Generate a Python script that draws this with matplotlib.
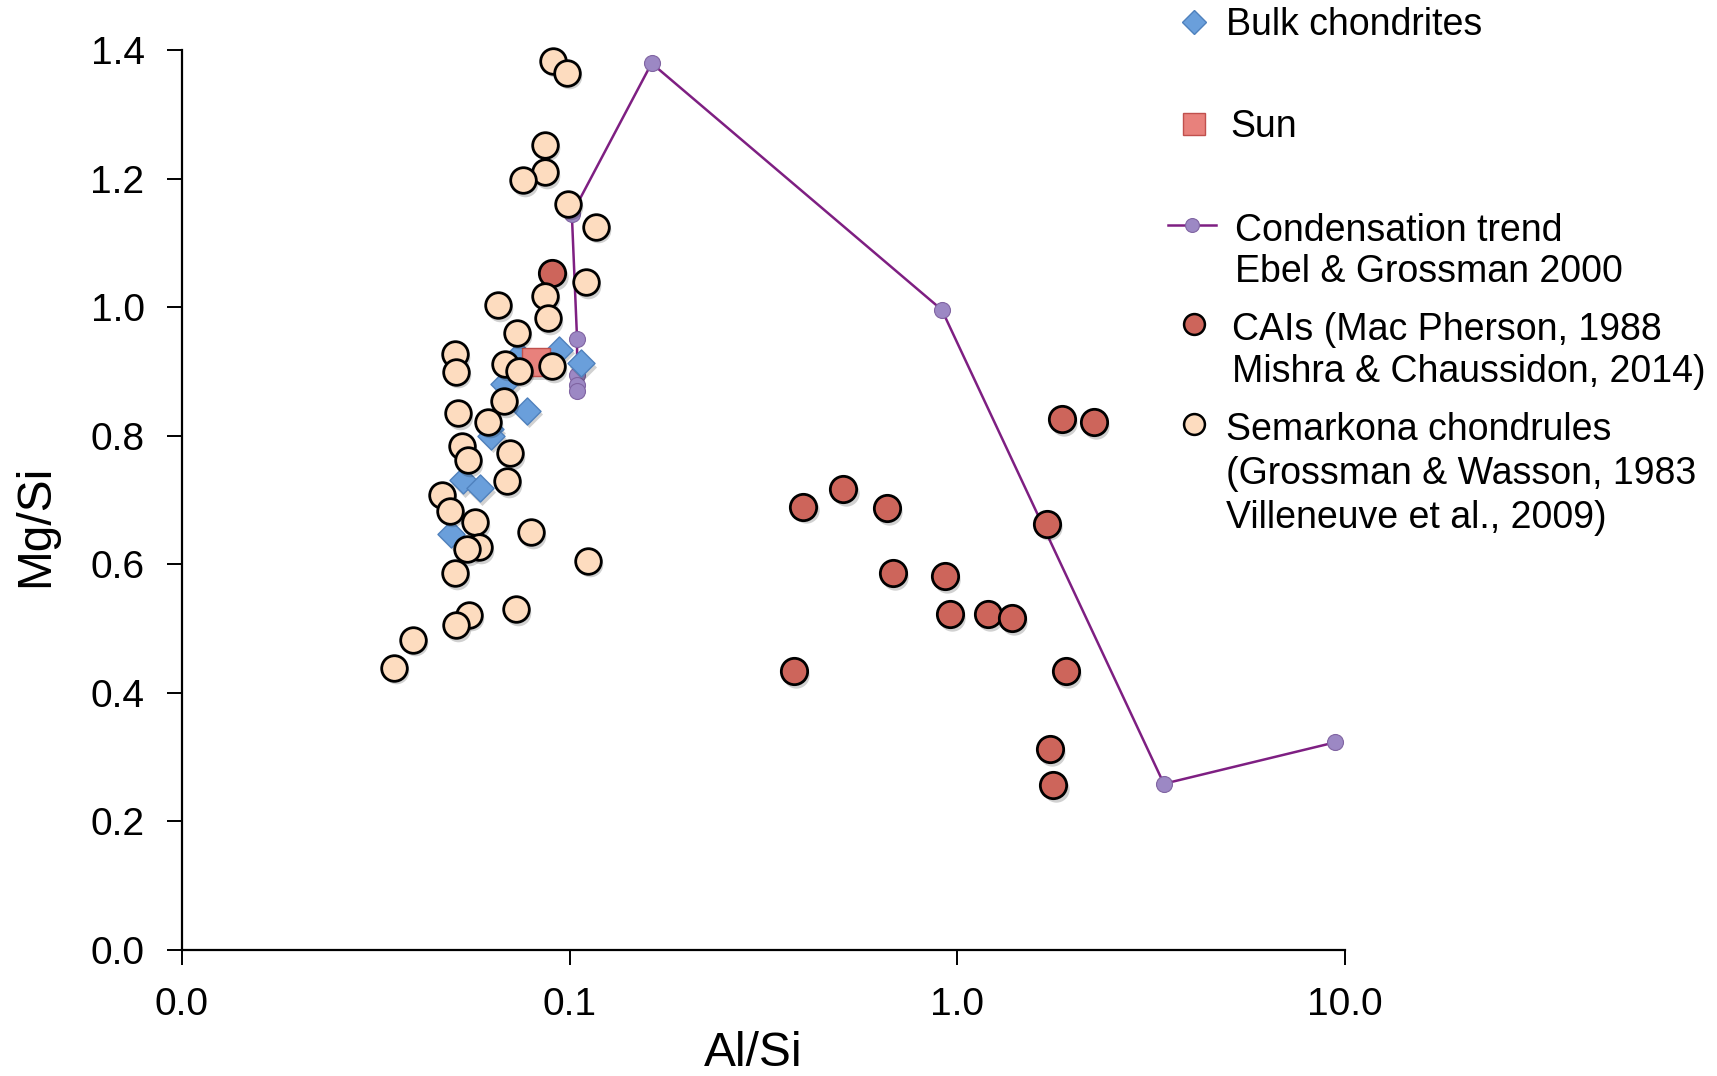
import matplotlib
matplotlib.use("Agg")
import matplotlib.pyplot as plt
from matplotlib.transforms import ScaledTranslation
from matplotlib.lines import Line2D

plt.rcParams['font.family'] = ['Liberation Sans', 'DejaVu Sans']

# ---- data (Al/Si, Mg/Si) ----
chondrule_x = [0.0905, 0.0984, 0.0865, 0.0865, 0.0759, 0.0989, 0.1166, 0.1103, 0.0865,
               0.0653, 0.0881, 0.0731, 0.0505, 0.0510, 0.0683, 0.0741, 0.0901, 0.0678,
               0.0514, 0.0614, 0.0528, 0.0547, 0.0702, 0.0690, 0.0469, 0.0491, 0.0571,
               0.0796, 0.0582, 0.0544, 0.1116, 0.0505, 0.0725, 0.0551, 0.0508, 0.0395,
               0.0353]
chondrule_y = [1.384, 1.365, 1.253, 1.210, 1.198, 1.161, 1.125, 1.039, 1.018,
               1.003, 0.983, 0.960, 0.927, 0.900, 0.911, 0.901, 0.908, 0.854,
               0.835, 0.822, 0.784, 0.762, 0.773, 0.729, 0.708, 0.683, 0.665,
               0.650, 0.626, 0.623, 0.605, 0.586, 0.530, 0.521, 0.505, 0.482,
               0.439]

cai_x = [0.0903, 1.860, 2.254, 0.401, 0.5085, 0.660, 1.701, 0.684, 0.928, 0.958,
         1.198, 1.387, 0.378, 1.909, 1.736, 1.770]
cai_y = [1.053, 0.826, 0.821, 0.689, 0.717, 0.687, 0.663, 0.586, 0.581, 0.522,
         0.522, 0.516, 0.433, 0.433, 0.312, 0.256]

bulk_x = [0.0936, 0.1071, 0.0679, 0.0740, 0.0778, 0.0624, 0.0627, 0.0532, 0.0588, 0.0495]
bulk_y = [0.934, 0.913, 0.880, 0.926, 0.839, 0.810, 0.800, 0.731, 0.718, 0.647]

sun_x = [0.0817]
sun_y = [0.9145]

cond_x = [9.42, 3.41, 0.912, 0.1627, 0.1013, 0.1045, 0.1045, 0.1045, 0.1045]
cond_y = [0.3225, 0.258, 0.996, 1.380, 1.145, 0.950, 0.895, 0.879, 0.870]

x_ticks = [0.01, 0.1, 1, 10]
x_ticklabels = ["0.0", "0.1", "1.0", "10.0"]
y_ticks = [0.0, 0.2, 0.4, 0.6, 0.8, 1.0, 1.2, 1.4]
y_ticklabels = ["0.0", "0.2", "0.4", "0.6", "0.8", "1.0", "1.2", "1.4"]

legend_labels = {
    "bulk": ["Bulk chondrites"],
    "sun": ["Sun"],
    "cond": ["Condensation trend", "Ebel & Grossman 2000"],
    "cai": ["CAIs (Mac Pherson, 1988", "Mishra & Chaussidon, 2014)"],
    "chond": ["Semarkona chondrules", "(Grossman & Wasson, 1983", "Villeneuve et al., 2009)"],
}

# ---- styles ----
C_PEACH = "#FDDCBF"
C_CAI = "#CD655B"
C_BULK = "#6A9FDB"
C_BULK_EDGE = "#4F81BD"
C_SUN = "#E8817C"
C_SUN_EDGE = "#C0504D"
C_LINE = "#7E1F82"
C_PURP = "#9C88C4"
C_PURP_EDGE = "#8064A2"

W, H = 1717, 1076
fig = plt.figure(figsize=(W / 100, H / 100), dpi=100)
ax = fig.add_axes([182 / W, 1 - 949.5 / H, (1345 - 182) / W, (949.5 - 50.4) / H])

shadow_tr = ax.transData + ScaledTranslation(1.5 / 72, -2.5 / 72, fig.dpi_scale_trans)

def shadowed_scatter(x, y, s, marker, face, edge, lw, z):
    sh = ax.scatter(x, y, s=s, marker=marker, c="#000000", alpha=0.18, lw=0, zorder=z - 0.5)
    sh.set_offset_transform(shadow_tr)
    sh.set_clip_on(False)
    sc = ax.scatter(x, y, s=s, marker=marker, c=face, edgecolors=edge, linewidths=lw, zorder=z)
    sc.set_clip_on(False)
    return sc

ax.plot(cond_x, cond_y, color=C_LINE, lw=1.8, marker="o", markersize=11.5,
        markerfacecolor=C_PURP, markeredgecolor=C_PURP_EDGE, markeredgewidth=0.8,
        zorder=3, clip_on=False)
shadowed_scatter(cai_x, cai_y, 360, "o", C_CAI, "black", 2.0, 4)
shadowed_scatter(bulk_x, bulk_y, 190, "D", C_BULK, C_BULK_EDGE, 1.0, 5)
shadowed_scatter(sun_x, sun_y, 400, "s", C_SUN, C_SUN_EDGE, 1.0, 6)
shadowed_scatter(chondrule_x, chondrule_y, 340, "o", C_PEACH, "black", 2.0, 7)

ax.set_xscale("log")
ax.set_xlim(0.01, 10)
ax.set_ylim(0, 1.4)
ax.set_xticks(x_ticks)
ax.set_xticklabels(x_ticklabels)
ax.xaxis.set_minor_locator(matplotlib.ticker.NullLocator())
ax.set_yticks(y_ticks)
ax.set_yticklabels(y_ticklabels)

for side in ("top", "right"):
    ax.spines[side].set_visible(False)
for side in ("left", "bottom"):
    ax.spines[side].set_linewidth(1.6)
    ax.spines[side].set_color("black")

ax.tick_params(axis="x", direction="out", length=11, width=1.4, pad=16, labelsize=28)
ax.tick_params(axis="y", direction="out", length=11, width=1.4, pad=16, labelsize=28)

ax.set_xlabel("Al/Si", fontsize=34.5, va="center")
ax.xaxis.set_label_coords((753.4 - 182) / (1345 - 182), (949.5 - 1053.4) / (949.5 - 50.4))
ax.set_ylabel("Mg/Si", fontsize=34.5, va="center")
ax.yaxis.set_label_coords((36 - 182) / (1345 - 182), (949.5 - 525.6) / (949.5 - 50.4))

# ---- legend (drawn outside the axes, figure pixel positions) ----
def fx(px):
    return px / W

def fy(py):
    return 1 - py / H

LFS = 27
def legend_text(x0, ys, lines):
    for yy, t in zip(ys, lines):
        fig.text(fx(x0), fy(yy + 3), t, fontsize=LFS, ha="left", va="center")

fig.add_artist(Line2D([fx(1193.6)], [fy(21.9)], marker="D", markersize=12,
                      markerfacecolor=C_BULK, markeredgecolor=C_BULK_EDGE, markeredgewidth=1.0,
                      linestyle="none", transform=fig.transFigure))
legend_text(1226, [21.9], legend_labels["bulk"])

fig.add_artist(Line2D([fx(1193.6)], [fy(123.7)], marker="s", markersize=16,
                      markerfacecolor=C_SUN, markeredgecolor=C_SUN_EDGE, markeredgewidth=1.0,
                      linestyle="none", transform=fig.transFigure))
legend_text(1230, [123.7], legend_labels["sun"])

fig.add_artist(Line2D([fx(1168), fx(1216)], [fy(224.5), fy(224.5)], color=C_LINE, lw=1.8,
                      transform=fig.transFigure))
fig.add_artist(Line2D([fx(1192)], [fy(224.5)], marker="o", markersize=10,
                      markerfacecolor=C_PURP, markeredgecolor=C_PURP_EDGE, markeredgewidth=0.8,
                      linestyle="none", transform=fig.transFigure))
legend_text(1235, [227.8, 269.4], legend_labels["cond"])

fig.add_artist(Line2D([fx(1193.6)], [fy(324)], marker="o", markersize=15,
                      markerfacecolor=C_CAI, markeredgecolor="black", markeredgewidth=1.8,
                      linestyle="none", transform=fig.transFigure))
legend_text(1232, [327.4, 369.0], legend_labels["cai"])

fig.add_artist(Line2D([fx(1193.6)], [fy(423.8)], marker="o", markersize=15,
                      markerfacecolor=C_PEACH, markeredgecolor="black", markeredgewidth=1.8,
                      linestyle="none", transform=fig.transFigure))
legend_text(1226, [427.0, 470.9, 514.7], legend_labels["chond"])

fig.savefig("out.png", dpi=100)
